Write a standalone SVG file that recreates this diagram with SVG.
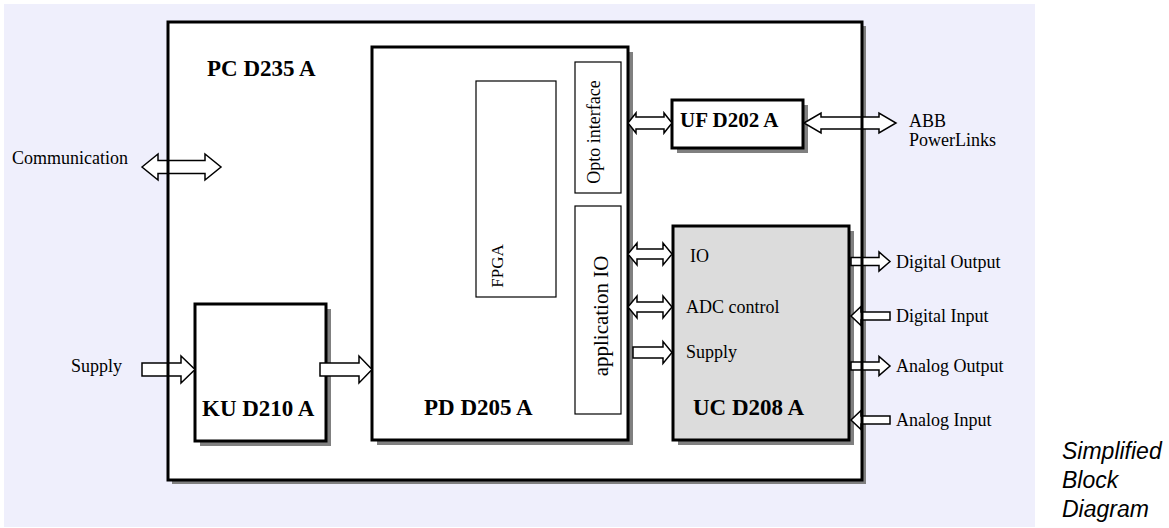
<svg xmlns="http://www.w3.org/2000/svg" width="1169" height="528" viewBox="0 0 1169 528">
<style>
.t{font-family:"Liberation Serif","Times New Roman",serif;font-size:18px;fill:#000}
.b{font-family:"Liberation Serif","Times New Roman",serif;font-size:23px;font-weight:bold;fill:#000}
.box{fill:#fff;stroke:#000;stroke-width:3}
.thin{fill:#fff;stroke:#000;stroke-width:1.2}
.sh{fill:#808080}
.arr{fill:#fff;stroke:#000;stroke-width:1.5;stroke-linejoin:miter}
.cap{font-family:"Liberation Sans",Arial,sans-serif;font-size:23px;font-style:italic;fill:#000}
</style>
<rect x="4" y="4" width="1031" height="523" fill="#EFEFFC"/>
<g id="PC_D235_A">
<rect class="sh" x="172" y="26" width="694" height="458"/>
<rect x="168" y="22" width="694" height="458" fill="#fff"/>
<text class="b" x="207" y="76">PC D235 A</text>
</g>
<g id="PD_D205_A">
<rect class="sh" x="377" y="52" width="256" height="393"/>
<rect class="box" x="372" y="47" width="256" height="393"/>
<text class="b" x="424" y="415">PD D205 A</text>
</g>
<g id="FPGA">
<rect class="thin" x="476" y="81" width="80" height="216"/>
<text class="t" text-anchor="middle" transform="translate(503,266) rotate(-90)" style="font-size:17px">FPGA</text>
</g>
<g id="Opto_interface">
<rect class="thin" x="575" y="62" width="46" height="131"/>
<text class="t" text-anchor="middle" transform="translate(600,132) rotate(-90)">Opto interface</text>
</g>
<g id="application_IO">
<rect class="thin" x="575" y="206" width="46" height="208"/>
<text class="t" text-anchor="middle" transform="translate(608,316) rotate(-90)" style="font-size:21px">application IO</text>
</g>
<g id="UF_D202_A">
<rect class="sh" x="677" y="105" width="131" height="48"/>
<rect class="box" x="672" y="100" width="131" height="48"/>
<text class="b" x="680" y="127" style="font-size:21px">UF D202 A</text>
</g>
<g id="UC_D208_A">
<rect class="sh" x="678" y="231" width="176" height="214"/>
<rect class="box" x="673" y="226" width="176" height="214" style="fill:#DCDCDC"/>
<text class="t" x="690" y="262">IO</text>
<text class="t" x="686" y="313">ADC control</text>
<text class="t" x="686" y="358">Supply</text>
<text class="b" x="693" y="415">UC D208 A</text>
</g>
<g id="KU_D210_A">
<rect class="sh" x="200" y="309" width="131" height="137"/>
<rect class="box" x="195" y="304" width="131" height="137"/>
<text class="b" x="202" y="416">KU D210 A</text>
</g>
<g id="connectors">
<path class="arr" d="M142,167 L158,154 L158,160.5 L205,160.5 L205,154 L221,167 L205,180 L205,173.5 L158,173.5 L158,180 Z"/>
<path class="arr" d="M628,123 L636,113 L636,117 L664,117 L664,113 L672,123 L664,133 L664,129 L636,129 L636,133 Z"/>
<path class="arr" d="M804,123 L821,113 L821,117 L879,117 L879,113 L896,123 L879,133 L879,129 L821,129 L821,133 Z"/>
<path class="arr" d="M628,254 L637,243 L637,249 L663,249 L663,243 L672,254 L663,265 L663,259 L637,259 L637,265 Z"/>
<path class="arr" d="M628,307 L637,296 L637,302 L663,302 L663,296 L672,307 L663,318 L663,312 L637,312 L637,318 Z"/>
<path class="arr" d="M633,347 L663,347 L663,341.5 L672,352.5 L663,363.5 L663,358 L633,358 Z"/>
<path class="arr" d="M142,363 L181,363 L181,356 L195,369.5 L181,383 L181,376 L142,376 Z"/>
<path class="arr" d="M320,363 L359,363 L359,356 L372,369.5 L359,383 L359,376 L320,376 Z"/>
<path class="arr" d="M851,257.5 L879,257.5 L879,252 L890,261.5 L879,271 L879,265.5 L851,265.5 Z"/>
<path class="arr" d="M890,312 L861,312 L861,306.5 L851,316 L861,325.5 L861,320 L890,320 Z"/>
<path class="arr" d="M851,362 L879,362 L879,356.5 L890,366 L879,375.5 L879,370 L851,370 Z"/>
<path class="arr" d="M890,416 L861,416 L861,410.5 L851,420 L861,429.5 L861,424 L890,424 Z"/>
</g>
<g id="PC_frame">
<rect x="168" y="22" width="694" height="458" fill="none" stroke="#000" stroke-width="3"/>
</g>
<g id="labels">
<text class="t" x="12" y="164">Communication</text>
<text class="t" x="71" y="372">Supply</text>
<text class="t" x="909" y="127">ABB</text>
<text class="t" x="909" y="146">PowerLinks</text>
<text class="t" x="896" y="268">Digital Output</text>
<text class="t" x="896" y="322">Digital Input</text>
<text class="t" x="896" y="372">Analog Output</text>
<text class="t" x="896" y="426">Analog Input</text>
<text class="cap" x="1062" y="459">Simplified</text>
<text class="cap" x="1062" y="488">Block</text>
<text class="cap" x="1062" y="517">Diagram</text>
</g>
</svg>
